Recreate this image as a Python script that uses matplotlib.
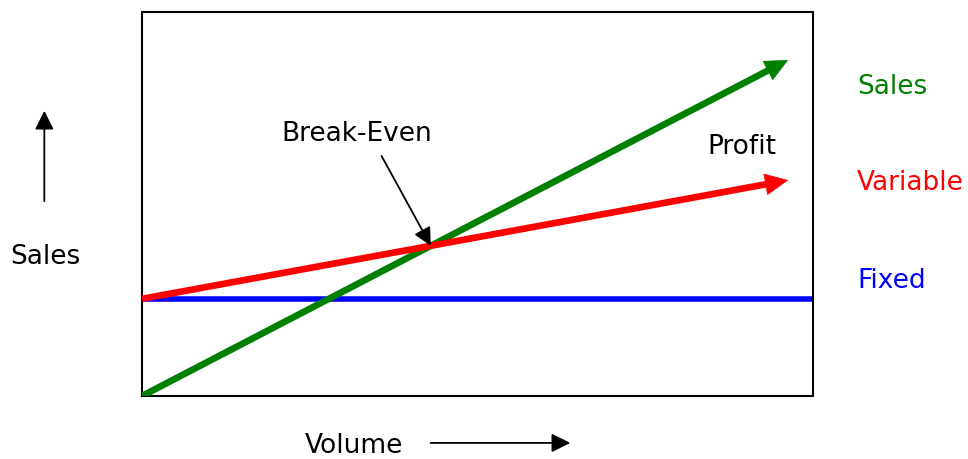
import numpy as np
import matplotlib.pyplot as plt
from matplotlib.patches import FancyArrowPatch

# Break-even chart values (volume on x, sales on y)
volume = [0.0, 9.63]
sales = [0.0, 8.75]
variable = [2.53, 5.62]
fixed_volume = [0.0, 10.0]
fixed = [2.53, 2.53]

line_labels = ["Sales", "Variable", "Fixed"]
line_colors = ["#008000", "#ff0000", "#0000ff"]
label_heights = [0.805, 0.555, 0.300]

FONT = 19
HEAD = "-|>,head_length=0.6,head_width=0.3"

plt.rcParams['font.family'] = ['DejaVu Sans']

fig = plt.figure(figsize=(9.68, 4.59), dpi=100)
ax = fig.add_axes([0.1467, 0.1373, 0.6932, 0.8366])
ax.set_xlim(0, 10)
ax.set_ylim(0, 10)
ax.set_xticks([])
ax.set_yticks([])
for spine in ax.spines.values():
    spine.set_linewidth(1.5)
    spine.set_color("black")

# fixed costs run flat across the whole range
ax.plot(fixed_volume, fixed, color=line_colors[2], lw=4.0, solid_capstyle="butt", zorder=2)


def line_arrow(xs, ys, color, z):
    # thick shaft stops short of the tip, a filled triangle sits on top
    p0 = ax.transData.transform((xs[0], ys[0]))
    p1 = ax.transData.transform((xs[1], ys[1]))
    d = (p1 - p0) / np.hypot(*(p1 - p0))
    end = ax.transData.inverted().transform(p1 - d * 14)
    ax.plot([xs[0], end[0]], [ys[0], end[1]], color=color, lw=4.8,
            solid_capstyle="butt", zorder=z)
    head = FancyArrowPatch((xs[0], ys[0]), (xs[1], ys[1]),
                           arrowstyle="-|>,head_length=0.72,head_width=0.34",
                           mutation_scale=22, lw=0.5, color=color,
                           shrinkA=0, shrinkB=0, zorder=z)
    ax.add_patch(head)


line_arrow(volume, sales, line_colors[0], 3)
line_arrow(volume, variable, line_colors[1], 3.5)

# intersection of the sales and variable lines
s_slope = (sales[1] - sales[0]) / (volume[1] - volume[0])
v_slope = (variable[1] - variable[0]) / (volume[1] - volume[0])
be_x = (variable[0] - sales[0]) / (s_slope - v_slope)
be_y = sales[0] + s_slope * be_x

ax.text(3.2, 6.82, "Break-Even", fontsize=FONT, ha="center", va="center")
ax.annotate("", xy=(be_x, be_y), xytext=(3.57, 6.25),
            arrowprops=dict(arrowstyle=HEAD, mutation_scale=18, lw=1.3,
                            color="black", shrinkA=0, shrinkB=0), zorder=4)
ax.text(8.94, 6.48, "Profit", fontsize=FONT, ha="center", va="center")

# labels for each line, right of the frame
for name, color, h in zip(line_labels, line_colors, label_heights):
    ax.text(1.0656, h, name, color=color, fontsize=FONT, ha="left", va="center",
            transform=ax.transAxes)

# axis captions with direction arrows
fig.text(0.0465, 0.440, "Sales", fontsize=FONT, ha="center", va="center")
fig.patches.append(FancyArrowPatch((0.0458, 0.5556), (0.0458, 0.7647),
                                   transform=fig.transFigure, arrowstyle=HEAD,
                                   mutation_scale=19, lw=1.3, color="black"))
fig.text(0.3657, 0.0283, "Volume", fontsize=FONT, ha="center", va="center")
fig.patches.append(FancyArrowPatch((0.442, 0.035), (0.592, 0.035),
                                   transform=fig.transFigure, arrowstyle=HEAD,
                                   mutation_scale=19, lw=1.3, color="black"))

fig.savefig("out.png", dpi=100)
